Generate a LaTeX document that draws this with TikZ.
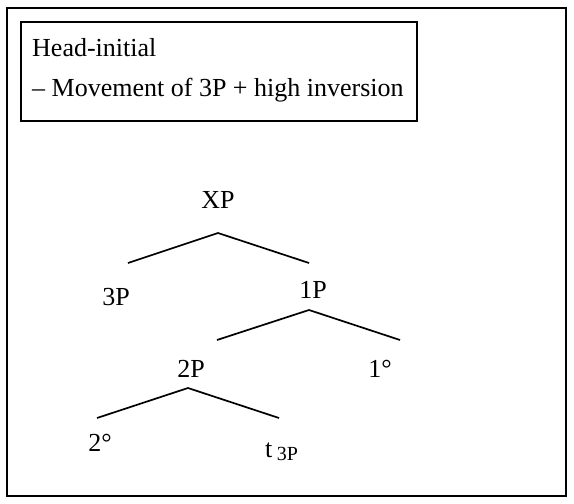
\documentclass[tikz,border=0pt]{standalone}
\usepackage{fontspec}
\setmainfont{Liberation Serif}
\begin{document}
\begin{tikzpicture}[x=1pt,y=-1pt,
  lbl/.style={anchor=base,inner sep=0pt,font=\fontsize{26}{31}\selectfont},
  branch/.style={line width=1.7pt,line cap=butt},
  frame/.style={line width=2.4pt},
  titlebox/.style={draw,line width=1.8pt,anchor=north west,inner sep=0pt,minimum width=396pt,minimum height=99pt}]
\useasboundingbox (0,0) rectangle (574,504);
\draw[frame] (7,8) rectangle (566,496);
\node[titlebox] (box) at (20,21) {};
\node[anchor=base west,inner sep=0pt,font=\fontsize{26}{31}\selectfont,align=left] (t1) at (32,56) {Head-initial};
\node[anchor=base west,inner sep=0pt,font=\fontsize{26}{31}\selectfont,align=left] (t2) at (32,96) {{--} Movement of 3P + high inversion};
% labels
\node[lbl] (xp) at (218,208) {XP};
\node[lbl] (p3) at (116,305) {3P};
\node[lbl] (p1) at (313,298) {1P};
\node[lbl] (p2) at (191,377) {2P};
\node[lbl] (h1) at (380,377) {1°};
\node[lbl] (h2) at (100,451) {2°};
\node[lbl,anchor=base west] (tr) at (265,457) {t\,\raisebox{-3pt}{\fontsize{20}{24}\selectfont 3P}};
% branch points
\coordinate (xa) at (218,233);
\coordinate (xl) at (128,263);
\coordinate (xr) at (309,263);
\coordinate (oa) at (309,310);
\coordinate (ol) at (217,340);
\coordinate (or) at (400,340);
\coordinate (ta) at (188,388);
\coordinate (tl) at (97,418);
\coordinate (tr2) at (279,418);
\draw[branch] (xl) -- (xa) -- (xr);
\draw[branch] (ol) -- (oa) -- (or);
\draw[branch] (tl) -- (ta) -- (tr2);
\end{tikzpicture}
\end{document}
